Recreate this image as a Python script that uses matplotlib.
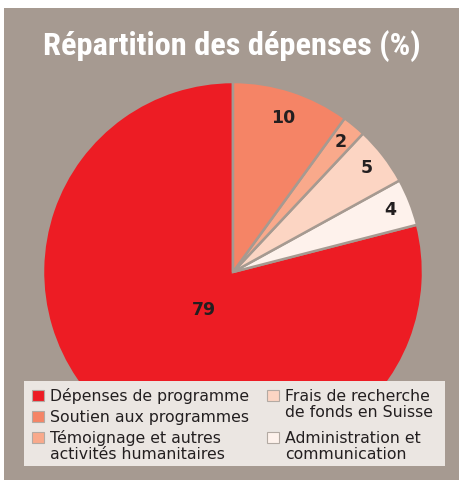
import numpy as np
import matplotlib.pyplot as plt
from matplotlib.patches import Rectangle

# Répartition des dépenses (%)
labels = ["Dépenses de programme", "Soutien aux programmes",
          "Témoignage et autres\nactivités humanitaires",
          "Frais de recherche\nde fonds en Suisse",
          "Administration et\ncommunication"]
values = [79, 10, 2, 5, 4]
colors = ["#ed1c24", "#f58466", "#f9a98b", "#fcd5c3", "#fef2ec"]

bg = "#a69a91"
W, H = 459, 480


def fx(px):
    return px / W


def fy(py):
    return 1 - py / H


fig = plt.figure(figsize=(W / 100, H / 100), dpi=100)
fig.patch.set_facecolor("white")
fig.patches.append(Rectangle((fx(4), 0), 1, fy(8), transform=fig.transFigure,
                             facecolor=bg, edgecolor="none", zorder=-5))

fig.text(fx(232), fy(55), "Répartition des dépenses (%)", color="white",
         fontsize=23.3, fontweight="bold", ha="center", va="baseline",
         family=["Roboto Condensed", "DejaVu Sans"])

# pie: 79 first from the top, going counterclockwise -> 4, 5, 2, 10
order = [0, 4, 3, 2, 1]
cx, cy, r = 233, 272, 190
ax = fig.add_axes([fx(cx - r), fy(cy + r), 2 * r / W, 2 * r / H])
ax.set_facecolor("none")
wedges, _ = ax.pie([values[i] for i in order], colors=[colors[i] for i in order],
                   startangle=90, counterclock=True, radius=1,
                   wedgeprops=dict(edgecolor=bg, linewidth=1.8))
ax.set_xlim(-1, 1)
ax.set_ylim(-1, 1)
ax.set_aspect("equal")
ax.axis("off")

for w, i in zip(wedges, order):
    ang = np.deg2rad((w.theta1 + w.theta2) / 2)
    d = 0.25 if values[i] > 50 else (0.85 if values[i] >= 10 else 0.89)
    ax.text(d * np.cos(ang), d * np.sin(ang), str(values[i]), ha="center", va="center",
            fontsize=12.5, fontweight="bold", color="#231f20")

# legend box, drawn by hand: 3 rows on the left, 2 on the right
fig.patches.append(Rectangle((fx(24), fy(466)), 421 / W, 85 / H, transform=fig.transFigure,
                             facecolor="#ebe6e2", edgecolor="none", zorder=5))
leg_x = [32, 32, 32, 267, 267]
leg_y = [390, 411, 432, 390, 432]
line_gap = 15.8
for c, lab, x, y in zip(colors, labels, leg_x, leg_y):
    fig.patches.append(Rectangle((fx(x), fy(y + 11)), 12 / W, 11 / H, transform=fig.transFigure,
                                 facecolor=c, edgecolor="#b3aaa3", linewidth=0.8, zorder=6))
    nl = lab.count("\n")
    fig.text(fx(x + 18), fy(y + 11 + nl * line_gap), lab, fontsize=11.3, color="#231f20",
             ha="left", va="baseline", linespacing=1.35 * line_gap / 19.5, zorder=7)

fig.savefig("out.png", dpi=100, facecolor=fig.get_facecolor())
